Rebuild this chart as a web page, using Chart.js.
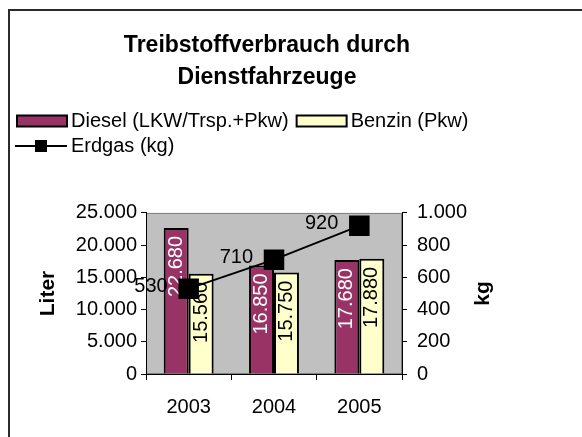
<!DOCTYPE html>
<html>
<head>
<meta charset="utf-8">
<script src="https://cdn.jsdelivr.net/npm/chart.js@4.4.0/dist/chart.umd.min.js"></script>
<style>
  html, body { margin: 0; padding: 0; background: #fff; }
  #wrap { position: relative; width: 582px; height: 437px; overflow: hidden; }
  #frame { position: absolute; left: 8px; top: 9px; right: -4px; bottom: -4px;
           border-left: 2px solid #2b2b2b; border-top: 2px solid #2b2b2b; }
  canvas { position: absolute; left: 0; top: 0; }
</style>
</head>
<body>
<div id="wrap">
  <div id="frame"></div>
  <canvas id="chart" width="582" height="437"></canvas>
</div>
<script>
// Daten aus dem Diagramm
const years = ['2003', '2004', '2005'];
const diesel = [22680, 16850, 17680];
const benzin = [15560, 15750, 17880];
const erdgas = [530, 710, 920];
const seriesNames = ['Diesel (LKW/Trsp.+Pkw)', 'Benzin (Pkw)', 'Erdgas (kg)'];
const titleLines = ['Treibstoffverbrauch durch', 'Dienstfahrzeuge'];
const literTicks = [0, 5000, 10000, 15000, 20000, 25000];
const kgTicks = [0, 200, 400, 600, 800, 1000];

const FONT = '"Liberation Sans", Arial, sans-serif';
const DIESEL_COLOR = '#993366';
const BENZIN_COLOR = '#ffffcc';

// 25000 -> "25.000"
function formatDE(v) {
    return String(v).replace(/\B(?=(\d{3})+(?!\d))/g, '.');
}

// grauer Plotbereich
const plotBackground = {
    id: 'plotBackground',
    beforeDraw(chart) {
        const {ctx, chartArea: a} = chart;
        ctx.save();
        ctx.fillStyle = '#c0c0c0';
        ctx.fillRect(a.left, a.top, a.width, a.height);
        ctx.strokeStyle = '#808080';
        ctx.lineWidth = 1;
        ctx.strokeRect(a.left + 0.5, a.top + 0.5, a.width - 1, a.height - 1);
        ctx.restore();
    }
};

// Datenbeschriftungen
const valueLabels = {
    id: 'valueLabels',
    afterDatasetDraw(chart, args) {
        const {ctx} = chart;
        const meta = args.meta;
        const ds = chart.data.datasets[args.index];
        ctx.save();
        ctx.font = '20px ' + FONT;
        ctx.textBaseline = 'middle';
        meta.data.forEach((el, i) => {
            const txt = formatDE(ds.data[i]);
            if (meta.type === 'bar') {
                ctx.save();
                ctx.translate(el.x, el.y + 8);
                ctx.rotate(-Math.PI / 2);
                ctx.textAlign = 'right';
                ctx.fillStyle = ds.labelColor;
                ctx.fillText(txt, 0, 0);
                ctx.restore();
            } else {
                ctx.textAlign = 'right';
                ctx.fillStyle = '#000';
                ctx.fillText(txt, el.x - 21, el.y - 2);
            }
        });
        ctx.restore();
    }
};

// Legende (links ausgerichtet, zwei Zeilen) und Titel der rechten Achse
const legendAndKg = {
    id: 'legendAndKg',
    afterDraw(chart) {
        const {ctx, chartArea: a} = chart;
        const datasets = chart.data.datasets;
        ctx.save();
        ctx.font = '20px ' + FONT;
        ctx.textAlign = 'left';
        ctx.textBaseline = 'middle';
        ctx.fillStyle = '#000';

        // Zeile 1: Balken
        let x = 17;
        const y1 = 121;
        [0, 1].forEach(i => {
            ctx.fillStyle = datasets[i].backgroundColor;
            ctx.fillRect(x, y1 - 5.5, 50, 11);
            ctx.strokeStyle = '#000';
            ctx.lineWidth = 2;
            ctx.strokeRect(x, y1 - 5.5, 50, 11);
            ctx.fillStyle = '#000';
            ctx.fillText(seriesNames[i], x + 54, y1);
            x += 54 + ctx.measureText(seriesNames[i]).width + 8;
        });

        // Zeile 2: Linie mit Quadrat
        const y2 = 146;
        ctx.fillRect(15, y2 - 1, 52, 2);
        ctx.fillRect(35, y2 - 6, 12, 12);
        ctx.fillText(seriesNames[2], 71, y2);

        // Achsentitel rechts, wie links gedreht
        ctx.translate(483, (a.top + a.bottom) / 2);
        ctx.rotate(-Math.PI / 2);
        ctx.font = 'bold 21px ' + FONT;
        ctx.textAlign = 'center';
        ctx.fillText('kg', 0, 0);
        ctx.restore();
    }
};

const tickFont = {family: FONT, size: 20};

new Chart(document.getElementById('chart'), {
    type: 'bar',
    data: {
        labels: years,
        datasets: [
            {
                label: seriesNames[0],
                data: diesel,
                backgroundColor: DIESEL_COLOR,
                borderColor: '#000',
                borderWidth: 2,
                labelColor: '#fff',
                yAxisID: 'y',
                order: 1
            },
            {
                label: seriesNames[1],
                data: benzin,
                backgroundColor: BENZIN_COLOR,
                borderColor: '#000',
                borderWidth: 2,
                labelColor: '#000',
                yAxisID: 'y',
                order: 1
            },
            {
                type: 'line',
                label: seriesNames[2],
                data: erdgas,
                borderColor: '#000',
                borderWidth: 2,
                backgroundColor: '#000',
                pointStyle: 'rect',
                pointRadius: 14.5,
                pointBorderWidth: 0,
                tension: 0,
                yAxisID: 'y2',
                order: 0
            }
        ]
    },
    options: {
        responsive: false,
        animation: false,
        devicePixelRatio: 1,
        events: [],
        categoryPercentage: 0.585,
        barPercentage: 1,
        layout: {padding: {left: 0, right: 48, top: 0, bottom: 0}},
        plugins: {
            title: {
                display: true,
                text: titleLines,
                color: '#000',
                font: {family: FONT, size: 23, weight: 'bold', lineHeight: 1.39},
                padding: {top: 30, bottom: 119}
            },
            legend: {display: false},
            tooltip: {enabled: false}
        },
        scales: {
            x: {
                grid: {display: true, drawOnChartArea: false, offset: true, tickLength: 6, color: '#000'},
                border: {color: '#000', width: 1},
                ticks: {color: '#000', font: tickFont, padding: 15},
                afterFit(s) { s.height = 63; }
            },
            y: {
                position: 'left',
                min: literTicks[0],
                max: literTicks[literTicks.length - 1],
                ticks: {
                    stepSize: literTicks[1] - literTicks[0],
                    color: '#000',
                    font: tickFont,
                    padding: 4,
                    callback: v => formatDE(v)
                },
                grid: {drawOnChartArea: false, tickLength: 5, color: '#000'},
                border: {color: '#000', width: 1},
                title: {
                    display: true,
                    text: 'Liter',
                    color: '#000',
                    font: {family: FONT, size: 21, weight: 'bold'},
                    padding: {top: 36, bottom: 0}
                },
                afterFit(s) { s.width = 146; }
            },
            y2: {
                position: 'right',
                min: kgTicks[0],
                max: kgTicks[kgTicks.length - 1],
                ticks: {
                    stepSize: kgTicks[1] - kgTicks[0],
                    color: '#000',
                    font: tickFont,
                    padding: 10,
                    callback: v => formatDE(v)
                },
                grid: {drawOnChartArea: false, tickLength: 5, color: '#000'},
                border: {color: '#000', width: 1},
                afterFit(s) { s.width = 132; }
            }
        }
    },
    plugins: [plotBackground, valueLabels, legendAndKg]
});
</script>
</body>
</html>
